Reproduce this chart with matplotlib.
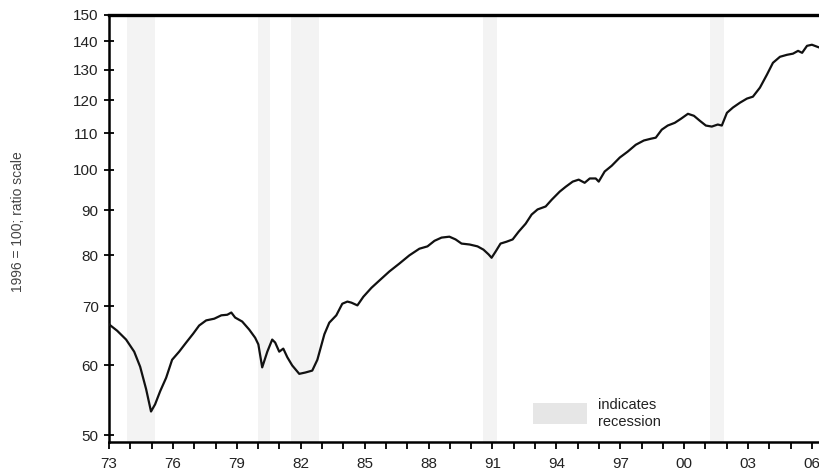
import numpy as np
import matplotlib.pyplot as plt
from matplotlib.patches import Rectangle
from matplotlib.ticker import FixedLocator, NullFormatter, NullLocator

plt.rcParams['font.family'] = ['Liberation Sans', 'DejaVu Sans']

# index, 1996 = 100
years = [1973.00, 1973.38, 1973.80, 1974.18, 1974.46, 1974.74, 1974.97, 1975.16,
         1975.40, 1975.68, 1975.96, 1976.29, 1976.62, 1976.95, 1977.23, 1977.56,
         1977.94, 1978.27, 1978.55, 1978.74, 1978.92, 1979.25, 1979.58, 1979.86,
         1980.01, 1980.19, 1980.43, 1980.66, 1980.80, 1980.99, 1981.18, 1981.37,
         1981.60, 1981.93, 1982.21, 1982.54, 1982.78, 1983.11, 1983.34, 1983.67,
         1983.95, 1984.19, 1984.38, 1984.66, 1984.94, 1985.32, 1985.69, 1986.16,
         1986.63, 1987.10, 1987.57, 1987.95, 1988.28, 1988.61, 1988.98, 1989.27,
         1989.55, 1989.93, 1990.30, 1990.58, 1990.82, 1990.96, 1991.15, 1991.38,
         1991.66, 1991.95, 1992.23, 1992.56, 1992.84, 1993.12, 1993.50, 1993.78,
         1994.16, 1994.44, 1994.77, 1995.05, 1995.33, 1995.57, 1995.85, 1995.99,
         1996.27, 1996.60, 1996.98, 1997.35, 1997.73, 1998.11, 1998.44, 1998.67,
         1998.95, 1999.23, 1999.56, 1999.85, 2000.18, 2000.46, 2000.74, 2001.02,
         2001.30, 2001.58, 2001.77, 2002.01, 2002.29, 2002.62, 2002.95, 2003.23,
         2003.56, 2003.89, 2004.17, 2004.50, 2004.83, 2005.11, 2005.35, 2005.54,
         2005.77, 2006.00, 2006.24, 2006.38]
index = [66.8, 65.7, 64.2, 62.2, 59.8, 56.4, 53.2, 54.2,
         56.1, 58.1, 60.9, 62.2, 63.7, 65.2, 66.6, 67.5,
         67.8, 68.4, 68.5, 68.9, 68.0, 67.3, 65.9, 64.5,
         63.4, 59.7, 62.2, 64.2, 63.7, 62.2, 62.7, 61.3,
         60.0, 58.7, 58.9, 59.2, 60.9, 65.1, 67.1, 68.4,
         70.5, 70.9, 70.7, 70.2, 71.8, 73.5, 74.9, 76.7,
         78.3, 80.0, 81.4, 81.9, 83.1, 83.8, 84.0, 83.4,
         82.5, 82.3, 81.9, 81.2, 80.2, 79.5, 80.8, 82.5,
         82.9, 83.4, 85.1, 86.9, 89.0, 90.2, 90.9, 92.5,
         94.5, 95.7, 97.0, 97.5, 96.7, 97.8, 97.8, 97.0,
         99.6, 101.1, 103.3, 104.9, 106.8, 108.0, 108.5, 108.8,
         111.1, 112.3, 113.1, 114.3, 115.8, 115.2, 113.7, 112.3,
         112.0, 112.6, 112.3, 116.1, 117.7, 119.2, 120.5, 121.1,
         124.0, 128.3, 132.3, 134.4, 135.1, 135.5, 136.5, 135.8,
         138.3, 138.7, 138.0, 137.6]

recessions = [(1973.83, 1975.17), (1980.0, 1980.55), (1981.55, 1982.87),
              (1990.55, 1991.2), (2001.2, 2001.88)]

y_ticks = [50, 60, 70, 80, 90, 100, 110, 120, 130, 140, 150]
x_major = list(range(1973, 2007, 3))
x_labels = ['%02d' % (y % 100) for y in x_major]

fig = plt.figure(figsize=(8.2, 4.76), dpi=100)
ax = fig.add_axes([0.133, 0.071, 0.867, 0.898])

for a, b in recessions:
    ax.axvspan(a, b, color='#f3f3f3', lw=0, zorder=0)

ax.plot(years, index, color='#111111', lw=1.6, zorder=3)

ax.set_yscale('log')
ax.set_ylim(49.1, 150)
ax.set_xlim(1973, 2006.38)

ax.yaxis.set_major_locator(FixedLocator(y_ticks))
ax.yaxis.set_major_formatter(plt.FixedFormatter([str(v) for v in y_ticks]))
ax.yaxis.set_minor_locator(NullLocator())
ax.yaxis.set_minor_formatter(NullFormatter())
ax.set_xticks(x_major)
ax.set_xticklabels(x_labels)
ax.set_xticks(range(1973, 2007), minor=True)

ax.tick_params(axis='y', which='major', direction='inout', length=7, width=1.3,
               labelsize=11, labelcolor='#222222', pad=4)
ax.tick_params(axis='x', which='both', direction='out', length=5, width=1.3,
               labelsize=11, labelcolor='#222222', pad=6)

for side in ['left', 'bottom']:
    ax.spines[side].set_linewidth(1.8)
ax.spines['top'].set_linewidth(2.4)
ax.spines['right'].set_visible(False)

ax.add_patch(Rectangle((0.596, 0.042), 0.076, 0.049, transform=ax.transAxes,
                       facecolor='#e6e6e6', edgecolor='none', zorder=2))
ax.text(0.688, 0.067, 'indicates\nrecession', transform=ax.transAxes,
        fontsize=10.5, color='#222222', va='center', ha='left', linespacing=1.25)

fig.text(0.022, 0.535, '1996 = 100; ratio scale', rotation=90, fontsize=10,
         color='#444444', ha='center', va='center')

fig.savefig('out.png', dpi=100)
